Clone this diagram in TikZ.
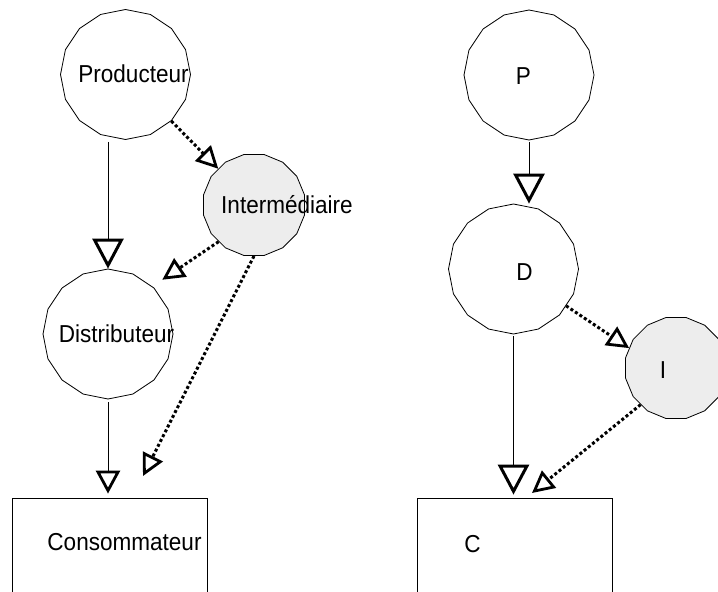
\documentclass[tikz,border=0pt]{standalone}
\usepackage{fontspec}
\setmainfont{Liberation Sans}[FakeStretch=0.92]
\usetikzlibrary{shapes.geometric,arrows.meta}
\definecolor{ifill}{RGB}{237,237,237}
\begin{document}
\begin{tikzpicture}[x=1bp,y=-1bp,
  wnode/.style={draw,line width=0.8bp,regular polygon,regular polygon sides=16,shape border rotate=11.25,minimum size=130bp,inner sep=0pt},
  gnode/.style={draw,line width=0.8bp,fill=ifill,regular polygon,regular polygon sides=16,minimum size=103bp,inner sep=0pt},
  boxnode/.style={draw,line width=0.8bp,minimum width=195bp,minimum height=120bp,inner sep=0pt},
  lbl/.style={font=\fontsize{24.5bp}{28bp}\selectfont,inner sep=0pt,anchor=base},
  solidarrow/.style={line width=0.8bp,-{Triangle[open,length=30bp,width=31bp,line width=3bp]}},
  smallarrow/.style={line width=0.8bp,-{Triangle[open,length=23bp,width=24bp,line width=2.8bp]}},
  dotarrow/.style={line width=3bp,dash pattern=on 3bp off 2.4bp,-{Triangle[open,length=22bp,width=22bp,line width=2.8bp]}},
]
\useasboundingbox (0,0) rectangle (718,592);
\clip (0,0) rectangle (718,592);
% left diagram
\node[wnode] (Producteur) at (125.5,74.5) {};
\node[gnode] (Intermediaire) at (254,205) {};
\node[wnode] (Distributeur) at (108,334) {};
\node[boxnode] (Consommateur) at (109.5,558) {};
\node[lbl] (tProd) at (133.5,83) {Producteur};
\node[lbl] (tInt) at (287,214) {Intermédiaire};
\node[lbl] (tDist) at (116.5,342) {Distributeur};
\node[lbl] (tCons) at (124.5,550.5) {Consommateur};
\coordinate (ctipA) at (143,476);
\draw[solidarrow,shorten <=2bp] (Distributeur |- Producteur.south) -- (Distributeur.north);
\draw[smallarrow,shorten <=3bp,shorten >=4bp] (Distributeur.south) -- (Distributeur.south |- Consommateur.north);
\draw[dotarrow] (Producteur) -- (Intermediaire);
\draw[dotarrow,shorten >=12bp] (Intermediaire.226) -- (Distributeur.47);
\draw[dotarrow] (Intermediaire.south) -- (ctipA);
% right diagram
\node[wnode] (P) at (529,75) {};
\node[wnode] (D) at (513.5,269) {};
\node[gnode] (I) at (676,368) {};
\node[boxnode] (C) at (514.5,558) {};
\node[lbl] (tP) at (523.5,85) {P};
\node[lbl] (tD) at (524.5,280) {D};
\node[lbl] (tI) at (663,378) {I};
\node[lbl] (tC) at (472.5,552.5) {C};
\coordinate (ctipB) at (532,493);
\draw[solidarrow,shorten <=2bp] (P.south) -- (P.south |- D.north);
\draw[solidarrow,shorten <=2bp,shorten >=3bp] (D.south) -- (D.south |- C.north);
\draw[dotarrow] (D.-35) -- (I.157);
\draw[dotarrow] (I.226) -- (ctipB);
\end{tikzpicture}
\end{document}
